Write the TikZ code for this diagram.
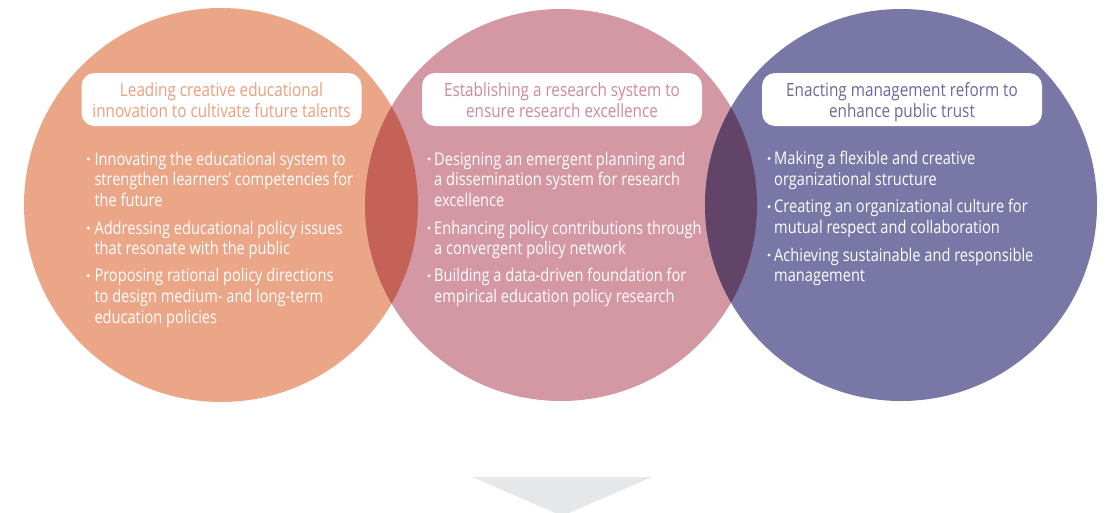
\documentclass[tikz,border=0pt]{standalone}
\usepackage{fontspec}
\setmainfont{Open Sans}[FakeStretch=0.835]
\definecolor{cL}{HTML}{EBA587}
\definecolor{cM}{HTML}{D497A4}
\definecolor{cR}{HTML}{7877A6}
\definecolor{cLM}{HTML}{C46257}
\definecolor{cMR}{HTML}{614468}
\definecolor{tL}{HTML}{EA9F80}
\definecolor{tM}{HTML}{CF899B}
\definecolor{tR}{HTML}{6B699B}
\definecolor{tri}{HTML}{E6E7E8}
\tikzset{
  bigcircle/.style={circle,inner sep=0pt,minimum size=#1},
  titlebox/.style={rounded corners=13pt,fill=white,minimum width=280pt,minimum height=53pt,inner sep=0pt},
  titletext/.style={font=\fontsize{18.3}{20}\selectfont,anchor=base,inner sep=0pt},
  bodytext/.style={font=\fontsize{17.5}{20}\selectfont,text=white,anchor=base west,inner sep=0pt},
  bulletdot/.style={circle,fill=white,inner sep=0pt,minimum size=3.4pt},
}
\newcommand\bodyline[4]{\node[bodytext] (#1) at (#2,#3) {#4};}
\newcommand\bulletat[3]{\node[bulletdot] (#1) at (#2,#3) {};}
\begin{document}
\begin{tikzpicture}[x=1pt,y=-1pt]
\useasboundingbox (0,0) rectangle (1113,512);
\clip (0,0) rectangle (1113,512);
% circles
\node[bigcircle=394pt,fill=cL] (cl) at (221,205) {};
\node[bigcircle=392pt,fill=cM] (cm) at (561,205) {};
\node[bigcircle=392pt,fill=cR] (cr) at (901,205) {};
\begin{scope}
  \clip (221,205) circle (197);
  \fill[cLM] (561,205) circle (196);
\end{scope}
\begin{scope}
  \clip (561,205) circle (196);
  \fill[cMR] (901,205) circle (196);
\end{scope}
% triangle
\fill[tri] (472,477) -- (652,477) -- (562,516) -- cycle;
% title boxes
\node[titlebox] (bl) at (221.5,99.5) {};
\node[titlebox] (bm) at (562,99.5) {};
\node[titlebox] (br) at (902,99.5) {};
\node[titletext,text=tL] (tl1) at (221.5,96) {Leading creative educational};
\node[titletext,text=tL] (tl2) at (221.5,117) {innovation to cultivate future talents};
\node[titletext,text=tM] (tm1) at (562,96) {Establishing a research system to};
\node[titletext,text=tM] (tm2) at (562,117) {ensure research excellence};
\node[titletext,text=tR] (tr1) at (902,96) {Enacting management reform to};
\node[titletext,text=tR] (tr2) at (902,117) {enhance public trust};
% left body
\bulletat{bl1}{88.3}{159}
\bodyline{l11}{94.3}{165}{Innovating the educational system to}
\bodyline{l12}{94.3}{185.7}{strengthen learners' competencies for}
\bodyline{l13}{94.3}{206.4}{the future}
\bulletat{bl2}{88.3}{228}
\bodyline{l21}{94.3}{234}{Addressing educational policy issues}
\bodyline{l22}{94.3}{254.7}{that resonate with the public}
\bulletat{bl3}{88.3}{275.7}
\bodyline{l31}{94.3}{281.7}{Proposing rational policy directions}
\bodyline{l32}{94.3}{302.4}{to design medium- and long-term}
\bodyline{l33}{94.3}{323.1}{education policies}
% middle body
\bulletat{bm1}{429}{159}
\bodyline{m11}{434}{165}{Designing an emergent planning and}
\bodyline{m12}{434}{185.7}{a dissemination system for research}
\bodyline{m13}{434}{206.4}{excellence}
\bulletat{bm2}{429}{228}
\bodyline{m21}{434}{234}{Enhancing policy contributions through}
\bodyline{m22}{434}{254.7}{a convergent policy network}
\bulletat{bm3}{429}{275.7}
\bodyline{m31}{434}{281.7}{Building a data-driven foundation for}
\bodyline{m32}{434}{302.4}{empirical education policy research}
% right body
\bulletat{br1}{769}{158.5}
\bodyline{r11}{774}{164.5}{Making a flexible and creative}
\bodyline{r12}{774}{185.2}{organizational structure}
\bulletat{br2}{769}{206.7}
\bodyline{r21}{774}{212.7}{Creating an organizational culture for}
\bodyline{r22}{774}{233.4}{mutual respect and collaboration}
\bulletat{br3}{769}{255}
\bodyline{r31}{774}{261}{Achieving sustainable and responsible}
\bodyline{r32}{774}{281.7}{management}
\end{tikzpicture}
\end{document}
